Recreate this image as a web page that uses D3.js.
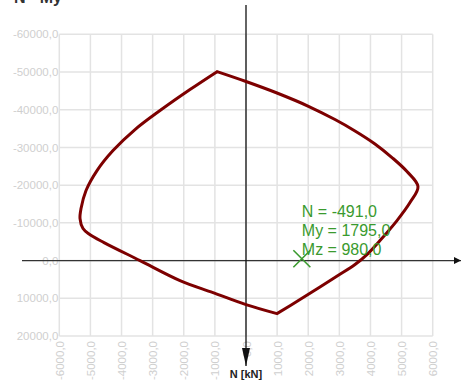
<!DOCTYPE html>
<html>
<head>
<meta charset="utf-8">
<script src="https://cdn.jsdelivr.net/npm/d3@7"></script>
<style>
  html, body { margin: 0; padding: 0; background: #fff; }
  svg { display: block; font-family: Arial, "Liberation Sans", sans-serif; }
</style>
</head>
<body>
<svg id="chart" width="462" height="388"></svg>
<script>
// Interaction diagram N - My: moment My [kNm] on the horizontal axis, N [kN] vertical (compression up)
const myTicks = [-6000, -5000, -4000, -3000, -2000, -1000, 0, 1000, 2000, 3000, 4000, 5000, 6000];
const nTicks = [-60000, -50000, -40000, -30000, -20000, -10000, 0, 10000, 20000];

// Boundary, positive-moment branch: from the top corner round to the bottom corner
const rightMy = [-930, 0, 996, 2024, 2860, 3503, 4145, 4692, 5174, 5527, 5270, 4852, 4306, 3920, 3503, 2956, 2378, 1735, 996];
const rightN  = [-50100, -47480, -44430, -40850, -37400, -34380, -30930, -27320, -23610, -19630, -15385, -10610, -5305, -1860, 1060, 3980, 7030, 10345, 14060];

// Boundary, negative-moment branch: from the bottom corner back up to the top corner
const leftMy = [996, 0, -1060, -2121, -3406, -4563, -5045, -5238, -5334, -5302, -5141, -4788, -4274, -3567, -2763, -1800, -930];
const leftN  = [14060, 11670, 8490, 5300, 0, -4775, -7030, -8490, -11140, -13790, -18570, -23870, -29180, -34750, -39790, -45360, -50100];

// Design load point
const loadN = -491.0;
const loadMy = 1795.0;
const loadMz = 980.0;

const svg = d3.select("#chart");
const x = d3.scaleLinear().domain([-6000, 6000]).range([59.3, 432.7]);
const y = d3.scaleLinear().domain([-60000, 20000]).range([34.3, 336]);
const fmt = v => d3.format(".1f")(v).replace(".", ",").replace("−", "-");

// Grid
const grid = svg.append("g");
grid.selectAll("line.v").data(myTicks).join("line")
  .attr("x1", d => x(d)).attr("x2", d => x(d))
  .attr("y1", y(-60000)).attr("y2", y(20000))
  .attr("stroke", "#e3e3e3").attr("stroke-width", 1.5);
grid.selectAll("line.h").data(nTicks).join("line")
  .attr("x1", x(-6000)).attr("x2", x(6000))
  .attr("y1", d => y(d)).attr("y2", d => y(d))
  .attr("stroke", "#e3e3e3").attr("stroke-width", 1.5);

// Axis tick labels built from d3 axes
const yAxis = svg.append("g").attr("transform", `translate(${x(-6000)},0)`)
  .call(d3.axisLeft(y).tickValues(nTicks).tickFormat(fmt).tickSize(0).tickPadding(1));
yAxis.select(".domain").remove();
yAxis.selectAll("text").attr("fill", "#cfcfcf").attr("font-size", 11.5)
  .style("font-family", "Arial, 'Liberation Sans', sans-serif");

const xAxis = svg.append("g").attr("transform", `translate(0,${y(20000)})`)
  .call(d3.axisBottom(x).tickValues(myTicks).tickFormat(fmt).tickSize(0));
xAxis.select(".domain").remove();
xAxis.selectAll("text")
  .attr("transform", "rotate(-90)")
  .attr("text-anchor", "end")
  .attr("x", -5).attr("y", 0).attr("dy", "0.35em")
  .attr("fill", "#cfcfcf").attr("font-size", 11.5)
  .style("font-family", "Arial, 'Liberation Sans', sans-serif");

// Main axes through the origin
svg.append("defs").html(`
  <marker id="arrow" viewBox="0 0 10 10" refX="10" refY="5" markerWidth="7" markerHeight="7" markerUnits="userSpaceOnUse" orient="auto">
    <path d="M0,0 L10,5 L0,10 z" fill="#111"/>
  </marker>
  <marker id="arrowV" viewBox="0 0 10 10" refX="10" refY="5" markerWidth="18" markerHeight="8" markerUnits="userSpaceOnUse" orient="auto" preserveAspectRatio="none">
    <path d="M0,0 L10,5 L0,10 z" fill="#111"/>
  </marker>`);
svg.append("line")
  .attr("x1", 22).attr("x2", 461)
  .attr("y1", y(0)).attr("y2", y(0))
  .attr("stroke", "#333").attr("stroke-width", 1.3)
  .attr("marker-end", "url(#arrow)");
svg.append("line")
  .attr("x1", x(0)).attr("x2", x(0))
  .attr("y1", 5).attr("y2", 366)
  .attr("stroke", "#111").attr("stroke-width", 1.3)
  .attr("marker-end", "url(#arrowV)");

svg.append("text").attr("x", x(0)).attr("y", 378)
  .attr("text-anchor", "middle").attr("font-size", 11).attr("font-weight", "bold")
  .attr("fill", "#222").text("N [kN]");

svg.append("text").attr("x", 14).attr("y", 3)
  .attr("font-size", 16).attr("font-weight", "bold")
  .attr("fill", "#333").text("N - My");

// Interaction boundary: two smooth branches meeting in sharp corners
const branch = d3.line().x(d => x(d[0])).y(d => y(d[1])).curve(d3.curveCatmullRom.alpha(0.5));
const rightPts = rightMy.map((m, i) => [m, rightN[i]]);
const leftPts = leftMy.map((m, i) => [m, leftN[i]]);
svg.append("path")
  .attr("d", branch(rightPts) + branch(leftPts).replace(/^M/, "L") + "Z")
  .attr("fill", "none")
  .attr("stroke", "#7d0000")
  .attr("stroke-width", 3)
  .attr("stroke-linejoin", "miter");

// Load point marker and its values
const green = "#3a9a2e";
const px = x(loadMy), py = y(loadN), s = 8.5;
svg.append("path")
  .attr("d", `M${px - s},${py - s}L${px + s},${py + s}M${px - s},${py + s}L${px + s},${py - s}`)
  .attr("stroke", green).attr("stroke-width", 1.6).attr("fill", "none");

const labels = [`N = ${fmt(loadN)}`, `My = ${fmt(loadMy)}`, `Mz = ${fmt(loadMz)}`];
svg.append("g").selectAll("text").data(labels).join("text")
  .attr("x", px).attr("y", (d, i) => py - 42 + i * 19)
  .attr("font-size", 16).attr("fill", green)
  .text(d => d);
</script>
</body>
</html>
